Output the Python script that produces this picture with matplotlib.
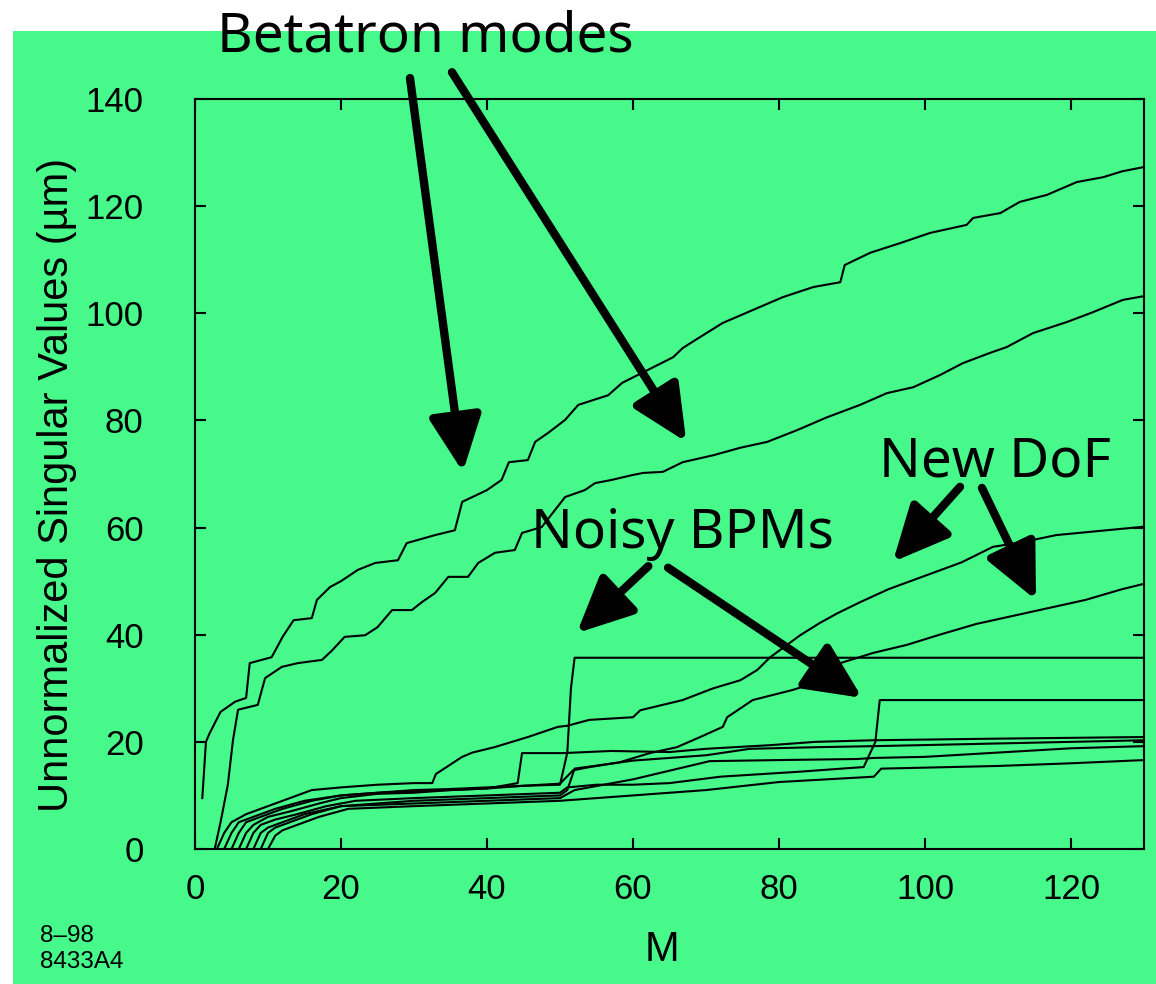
import matplotlib
matplotlib.use("Agg")
import matplotlib.pyplot as plt
from matplotlib.patches import Rectangle

# ---- data (M, singular value in um) ----
# betatron mode 1
a_m = [1, 1.5, 2, 3.5, 5.5, 7, 7.5, 10.5, 12, 13.5, 16, 16.7, 18.5, 20, 22.3, 24.7, 27.8, 29, 32.9, 35.6,
       36.6, 40, 42, 43, 45.6, 46.6, 48.4, 50.7, 52.5, 56.6, 58.5, 62, 65.5, 66.8, 69, 72.3, 76.4, 80.5,
       84.7, 88.4, 89, 92.5, 96.6, 100.7, 105.7, 106.6, 110.3, 113, 116.7, 120.8, 124.4, 127, 130]
a_v = [9.5, 20, 21.6, 25.6, 27.5, 28.2, 34.7, 35.8, 39.6, 42.7, 43.1, 46.5, 48.9, 50, 52.1, 53.4, 53.9, 57.1,
       58.6, 59.5, 64.8, 67, 68.9, 72.2, 72.6, 76, 77.7, 80.1, 82.9, 84.7, 87, 89.4, 91.8, 93.5, 95.4, 98.2,
       100.6, 103, 104.9, 105.8, 109, 111.3, 113.1, 115, 116.5, 117.8, 118.7, 120.8, 122.1, 124.5, 125.4,
       126.5, 127.3]

# betatron mode 2
b_m = [2.7, 3.5, 4.5, 5.2, 5.9, 8.6, 9.6, 11.9, 14.1, 17.4, 18.8, 20.5, 23.3, 25, 27, 29.7, 31.1, 32.9,
       34.7, 37.4, 38.8, 41.1, 43.8, 44.8, 47.5, 50.7, 53.4, 54.8, 57.1, 59.9, 61.4, 64.1, 66.8, 71, 74.7,
       78.4, 82.5, 86.6, 91.1, 94.8, 98.4, 102.1, 105.2, 108.9, 111.2, 114.8, 119.5, 123, 127.1, 130]
b_v = [0, 5, 12, 20.3, 26, 26.9, 31.9, 34, 34.7, 35.3, 37.1, 39.6, 39.9, 41.4, 44.6, 44.6, 46.1, 47.8,
       50.8, 50.8, 53.4, 55.3, 55.8, 59, 60.1, 65.7, 67, 68.3, 68.9, 69.8, 70.2, 70.4, 72.2, 73.5, 74.9,
       76, 78.2, 80.6, 82.9, 85.1, 86.2, 88.5, 90.7, 92.6, 93.7, 96.3, 98.4, 100.2, 102.5, 103.2]

# new degree of freedom, upper
c_m = [3, 4, 5, 7, 10, 13, 16, 20, 25, 30, 32.5, 33, 36.6, 38, 41, 45.6, 49.7, 51, 54, 60, 61, 66.8,
       71, 74.7, 77, 78.8, 82.9, 85.6, 88, 91, 95, 100, 105, 109.3, 113.4, 118, 122.6, 129.5, 130]
c_v = [0, 3, 5, 6.5, 8, 9.5, 11, 11.5, 12, 12.3, 12.3, 14, 17.2, 18, 19, 20.9, 22.8, 23, 24.1, 24.6,
       25.9, 27.8, 30, 31.5, 33.4, 35.8, 39.9, 42.2, 44, 46, 48.5, 51, 53.5, 56.4, 57.3, 58.6, 59.2,
       60.1, 60.2]

# new degree of freedom, lower
d_m = [4, 5, 6, 8, 11, 15, 20, 25, 30, 35, 40, 45, 50, 51.8, 54.1, 58.2, 62.3, 66, 69.2, 72.3, 72.9,
       76.4, 81.9, 86, 88.4, 92.9, 97.5, 102, 107, 112, 117, 122, 127, 130]
d_v = [0, 3, 5, 6, 7.5, 9, 10, 10.5, 10.8, 11, 11.3, 11.8, 12.2, 14.7, 15.3, 16.2, 17.9, 19, 20.9, 22.8,
       24.6, 27.8, 29.7, 31.5, 34.7, 36.6, 38.1, 40, 42, 43.5, 45, 46.5, 48.5, 49.5]

# noisy BPM 1
n1_m = [5, 6, 7, 9, 12, 16, 20, 25, 30, 35, 40, 45, 50, 51, 51.5, 52, 130]
n1_v = [0, 3, 5, 6, 7.5, 9, 10, 10.5, 11, 11.2, 11.5, 11.8, 12, 18, 30, 35.7, 35.7]

# noisy BPM 2
n2_m = [7, 8, 9, 11, 14, 18, 22, 30, 40, 50, 51, 55, 60, 65, 72, 82.5, 91.6, 93.2, 93.8, 130]
n2_v = [0, 3, 4.5, 5.5, 6.5, 8, 9, 9.5, 10, 10.5, 11.5, 12, 12, 12.3, 13.5, 14.4, 15.3, 20, 27.8, 27.8]

# remaining low singular values
e_m = [6, 7, 8, 10, 13, 17, 20, 25, 30, 35, 40, 44.2, 44.8, 50.4, 57, 65, 70, 79, 85, 93, 110, 130]
e_v = [0, 3, 4.5, 6, 7, 8.5, 9.5, 10.3, 10.5, 11, 11.3, 12.3, 17.9, 17.9, 18.3, 18.1, 18.7, 19.4, 20,
       20.3, 20.6, 20.9]
l1_m = [8, 9, 10, 12, 15, 20, 30, 40, 50, 51, 52, 60, 70, 76, 85, 93, 100, 110, 120, 130]
l1_v = [0, 3, 4, 5, 6.5, 8, 9, 9.5, 10, 11, 15, 16.5, 17.5, 18.7, 19, 19.2, 19.4, 19.7, 20, 20.3]
l2_m = [9, 10, 11, 13, 16, 20, 30, 40, 50, 52, 60, 70.5, 80, 90.7, 93, 100, 110, 120, 130]
l2_v = [0, 3, 4, 5, 6.5, 8, 8.5, 9, 9.5, 11, 13, 16.4, 16.6, 16.8, 17, 17.2, 18, 18.8, 19.2]
l3_m = [10, 11, 12, 14, 17, 21, 30, 40, 50, 60, 70, 80, 93, 94, 110, 120, 130]
l3_v = [0, 2.5, 3.5, 4.5, 6, 7.5, 8, 8.5, 9, 10, 11, 12.5, 13.5, 15, 15.5, 16, 16.6]

curves = [(a_m, a_v), (b_m, b_v), (c_m, c_v), (d_m, d_v), (n1_m, n1_v), (n2_m, n2_v),
          (e_m, e_v), (l1_m, l1_v), (l2_m, l2_v), (l3_m, l3_v)]

x_ticks = [0, 20, 40, 60, 80, 100, 120]
y_ticks = [0, 20, 40, 60, 80, 100, 120, 140]

green = "#46f98a"

fig = plt.figure(figsize=(11.56, 9.84), dpi=100)
fig.patch.set_facecolor("white")
fig.patches.append(Rectangle((13 / 1156, 0), 1, (984 - 31) / 984, transform=fig.transFigure,
                             facecolor=green, edgecolor="none", zorder=-10))

ax = fig.add_axes([195 / 1156, 1 - 849 / 984, (1144 - 195) / 1156, (849 - 99) / 984])
ax.patch.set_alpha(0)

for m, v in curves:
    ax.plot(m, v, color="black", lw=1.5)

ax.set_xlim(0, 130)
ax.set_ylim(0, 140)
ax.set_xticks(x_ticks)
ax.set_yticks(y_ticks)
for s in ax.spines.values():
    s.set_linewidth(1.5)
ax.tick_params(direction="in", length=8, width=1.5, top=True, right=True,
               labelsize=25, labelfontfamily="Liberation Sans")
ax.tick_params(axis="y", pad=37)
ax.tick_params(axis="x", pad=17)

ax.set_xlabel("M", fontsize=30, family="Liberation Sans", va="center")
ax.xaxis.set_label_coords((662 - 195) / 949, (849 - 950) / 750)
ax.set_ylabel("Unnormalized Singular Values (µm)", fontsize=30, family="Liberation Sans",
              va="center", ha="center")
ax.yaxis.set_label_coords((57 - 195) / 949, (849 - 485) / 750)

# annotations
big = dict(fontsize=39.5, family="Noto Sans", ha="center", va="baseline")
arrow = dict(arrowstyle="-|>,head_length=1.7,head_width=0.8", lw=6, color="black",
             shrinkA=0, shrinkB=0, mutation_scale=20)
ax.annotate("Betatron modes", xy=(36.7, 70.4), xytext=(31.5, 148.8), annotation_clip=False, **big)
ax.annotate("", xy=(36.7, 70.4), xytext=(29.45, 143.9), arrowprops=arrow, annotation_clip=False)
ax.annotate("", xy=(67.3, 76), xytext=(35.2, 145), arrowprops=arrow, annotation_clip=False)

ax.text(66.8, 56.2, "Noisy BPMs", **big)
ax.annotate("", xy=(52.3, 40.3), xytext=(62.1, 52.8), arrowprops=arrow)
ax.annotate("", xy=(91.4, 28.2), xytext=(64.8, 52.5), arrowprops=arrow)

ax.text(109.6, 69.6, "New DoF", **big)
ax.annotate("", xy=(95.6, 53.6), xytext=(104.8, 67.6), arrowprops=arrow)
ax.annotate("", xy=(115.2, 46.5), xytext=(107.8, 67.4), arrowprops=arrow)

fig.text(40 / 1156, 1 - 936 / 984, "8–98", fontsize=17.5, family="Liberation Sans", va="center")
fig.text(40 / 1156, 1 - 962 / 984, "8433A4", fontsize=17.5, family="Liberation Sans", va="center")

fig.savefig("out.png", dpi=100, facecolor=fig.get_facecolor())
